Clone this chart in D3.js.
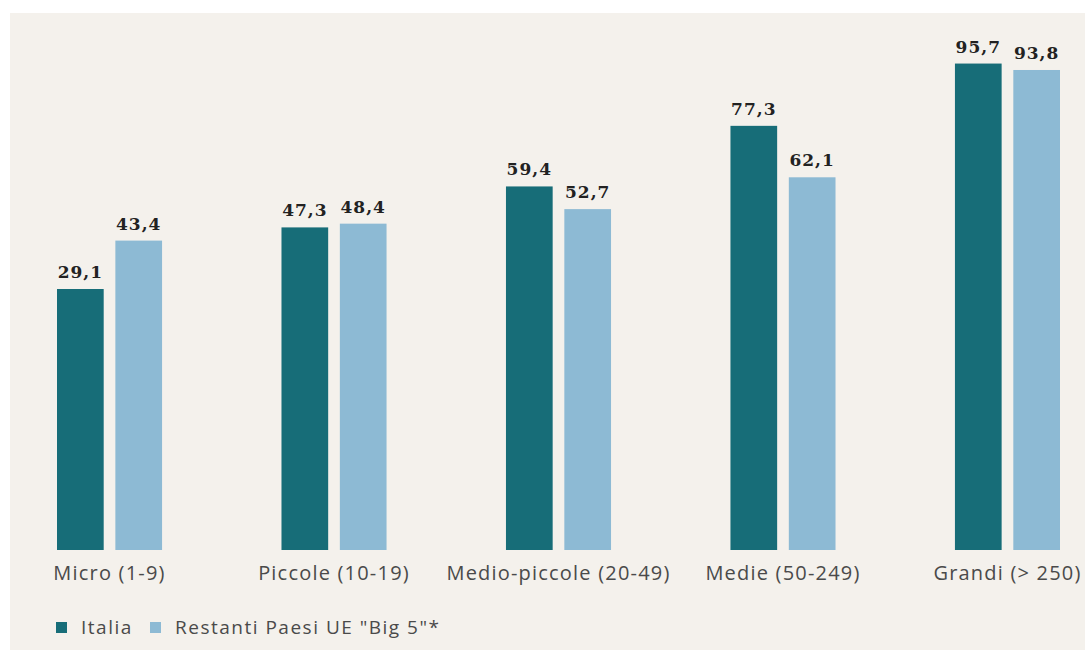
<!DOCTYPE html>
<html>
<head>
<meta charset="utf-8">
<script src="https://cdn.jsdelivr.net/npm/d3@7"></script>
<style>
    body { margin: 0; background: #ffffff; }
    #chart text { font-family: "Open Sans", sans-serif; }
</style>
</head>
<body>
<div id="chart"></div>
<script>
var categories = ["Micro (1-9)", "Piccole (10-19)", "Medio-piccole (20-49)", "Medie (50-249)", "Grandi (> 250)"];
var seriesNames = ["Italia", "Restanti Paesi UE \"Big 5\"*"];
var italia = [29.1, 47.3, 59.4, 77.3, 95.7];
var restanti = [43.4, 48.4, 52.7, 62.1, 93.8];
var seriesColors = ["#176d78", "#8dbad4"];

var width = 1085,
    height = 650;

var data = categories.map(function (c, i) {
    return { cat: c, values: [italia[i], restanti[i]] };
});

var svg = d3
    .select("#chart")
    .append("svg")
    .attr("width", width)
    .attr("height", height);

// beige panel
svg.append("rect")
    .attr("x", 10)
    .attr("y", 13)
    .attr("width", width - 10)
    .attr("height", height - 13)
    .attr("fill", "#f4f1ec");

var x0 = d3.scaleBand()
    .domain(categories)
    .range([57, 1060])
    .paddingInner(0.532)
    .paddingOuter(0);

var x1 = d3.scaleBand()
    .domain([0, 1])
    .range([0, x0.bandwidth()])
    .paddingInner(0.2);

// the original axis does not start at zero
var y = d3.scaleLinear()
    .domain([-48, 100])
    .range([550, 49]);

var fmt = function (v) {
    return d3.format(".1f")(v).replace(".", ",");
};

var groups = svg.append("g")
    .selectAll("g")
    .data(data)
    .enter()
    .append("g")
    .attr("transform", function (d) {
        return "translate(" + x0(d.cat) + ",0)";
    });

groups.selectAll("rect")
    .data(function (d) { return d.values; })
    .enter()
    .append("rect")
    .attr("x", function (d, i) { return x1(i); })
    .attr("y", function (d) { return y(d); })
    .attr("width", x1.bandwidth())
    .attr("height", function (d) { return y.range()[0] - y(d); })
    .attr("fill", function (d, i) { return seriesColors[i]; });

groups.selectAll("text.val")
    .data(function (d) { return d.values; })
    .enter()
    .append("text")
    .attr("class", "val")
    .attr("x", function (d, i) { return x1(i) + x1.bandwidth() / 2; })
    .attr("y", function (d) { return y(d) - 11; })
    .attr("text-anchor", "middle")
    .style("font-family", "'DejaVu Serif', serif")
    .style("font-weight", "bold")
    .style("font-size", "17px")
    .style("letter-spacing", "1px")
    .style("fill", "#222222")
    .text(fmt);

svg.append("g")
    .selectAll("text")
    .data(categories)
    .enter()
    .append("text")
    .attr("x", function (d) { return x0(d) + x0.bandwidth() / 2; })
    .attr("y", 580)
    .attr("text-anchor", "middle")
    .style("font-size", "20px")
    .style("letter-spacing", "1.2px")
    .style("fill", "#4a4a4a")
    .text(function (d) { return d; });

// legend
var legend = svg.append("g").attr("transform", "translate(56,627)");
var lx = [0, 94];
seriesNames.forEach(function (name, i) {
    legend.append("rect")
        .attr("x", lx[i])
        .attr("y", -5)
        .attr("width", 11)
        .attr("height", 11)
        .attr("fill", seriesColors[i]);
    legend.append("text")
        .attr("x", lx[i] + 25)
        .attr("y", 7)
        .style("font-size", "19px")
        .style("letter-spacing", "1.5px")
        .style("fill", "#4a4a4a")
        .text(name);
});
</script>
</body>
</html>
